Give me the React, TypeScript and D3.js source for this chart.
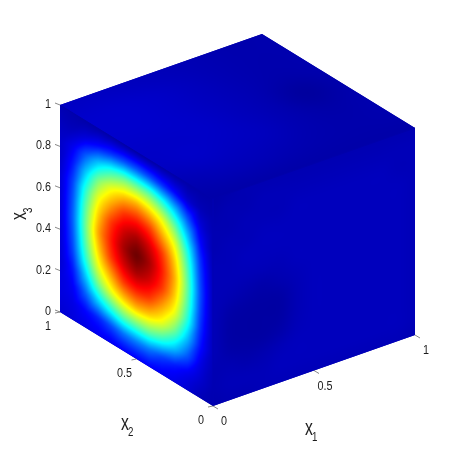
import React from "react";
import * as d3 from "d3";

// field on the x1=0 face: rows x3 = 1 → 0, columns x2 = 1 → 0
const leftFace = [
  [.05,.045,.04,.04,.04,.04,.04,.04,.04,.04,.04,.04,.04],
  [.06,.06,.09,.13,.17,.20,.21,.20,.17,.13,.08,.055,.045],
  [.07,.11,.21,.32,.41,.47,.48,.47,.41,.32,.20,.09,.05],
  [.07,.15,.32,.49,.60,.67,.70,.67,.60,.48,.31,.13,.05],
  [.08,.19,.41,.60,.72,.82,.85,.82,.72,.60,.40,.17,.055],
  [.08,.21,.46,.67,.82,.91,.95,.91,.82,.67,.45,.19,.06],
  [.08,.22,.48,.71,.85,.95,1.0,.95,.85,.70,.47,.20,.06],
  [.08,.21,.46,.67,.82,.91,.95,.91,.82,.67,.45,.19,.06],
  [.08,.19,.41,.60,.72,.82,.85,.82,.72,.60,.40,.17,.06],
  [.08,.15,.32,.49,.60,.67,.70,.67,.60,.48,.31,.14,.06],
  [.09,.12,.22,.33,.41,.47,.48,.47,.41,.32,.21,.10,.055],
  [.09,.10,.13,.16,.20,.24,.25,.24,.19,.15,.11,.075,.05],
  [.08,.09,.10,.11,.11,.12,.12,.12,.11,.10,.08,.055,.045],
];
// field on the x2=0 face: rows x3 = 1 → 0, columns x1 = 0 → 1
const rightFace = [
  [.04,.045,.05,.05,.05,.05,.05,.05,.05,.05,.05,.05,.05],
  [.045,.05,.05,.055,.055,.055,.055,.055,.055,.055,.055,.055,.055],
  [.05,.05,.055,.055,.055,.06,.06,.06,.06,.06,.06,.055,.055],
  [.05,.055,.055,.06,.06,.06,.06,.06,.06,.06,.06,.06,.055],
  [.055,.055,.06,.06,.06,.06,.06,.06,.06,.06,.06,.06,.055],
  [.055,.055,.055,.055,.055,.06,.06,.06,.06,.06,.06,.06,.055],
  [.055,.05,.045,.042,.048,.055,.06,.06,.06,.06,.06,.06,.055],
  [.055,.04,.036,.035,.037,.052,.06,.06,.06,.06,.06,.06,.055],
  [.055,.037,.034,.034,.036,.052,.06,.06,.06,.06,.06,.06,.055],
  [.055,.04,.036,.036,.042,.055,.06,.06,.06,.06,.06,.06,.055],
  [.05,.05,.045,.048,.055,.06,.06,.06,.06,.06,.06,.06,.055],
  [.05,.055,.055,.055,.06,.06,.06,.06,.06,.06,.06,.06,.055],
  [.045,.05,.05,.055,.055,.055,.055,.055,.055,.055,.055,.055,.05],
];
// field on the x3=1 face: rows x2 = 1 → 0, columns x1 = 0 → 1
const topFace = [
  [.065,.065,.06,.055,.05,.045,.045],
  [.075,.075,.07,.06,.05,.045,.045],
  [.075,.075,.07,.06,.05,.042,.045],
  [.07,.07,.07,.06,.048,.03,.042],
  [.065,.07,.065,.06,.048,.04,.045],
  [.05,.055,.055,.05,.045,.043,.045],
  [.04,.04,.04,.04,.04,.04,.04],
];
const x3Ticks = [0, 0.2, 0.4, 0.6, 0.8, 1];
const x3TickText = ["0", "0.2", "0.4", "0.6", "0.8", "1"];
const x2Ticks = [0, 0.5, 1];
const x2TickText = ["0", "0.5", "1"];
const x1Ticks = [0, 0.5, 1];
const x1TickText = ["0", "0.5", "1"];

const jetStops = [0, 0.125, 0.375, 0.625, 0.875, 1];
const jetColors = ["#000080", "#0000ff", "#00ffff", "#ffff00", "#ff0000", "#6e0000"];
const jet = d3.scaleLinear<string>().domain(jetStops).range(jetColors).clamp(true);

const sx1 = d3.scaleLinear().domain([0, 1]).range([0, 202]);
const sx2 = d3.scaleLinear().domain([0, 1]).range([0, -153]);
const sy1 = d3.scaleLinear().domain([0, 1]).range([0, -71]);
const sy2 = d3.scaleLinear().domain([0, 1]).range([0, -94]);
const sy3 = d3.scaleLinear().domain([0, 1]).range([0, -207]);
const proj = (a: number, b: number, c: number): [number, number] => [
  213 + sx1(a) + sx2(b),
  406 + sy1(a) + sy2(b) + sy3(c),
];

const cr = (p0: number, p1: number, p2: number, p3: number, t: number) =>
  0.5 * (2 * p1 + (p2 - p0) * t + (2 * p0 - 5 * p1 + 4 * p2 - p3) * t * t + (3 * p1 - p0 - 3 * p2 + p3) * t * t * t);

function bicubic(g: number[][], u: number, v: number) {
  const R = g.length - 1, C = g[0].length - 1;
  const fx = u * C, fy = v * R;
  const i = Math.min(Math.floor(fx), C - 1), j = Math.min(Math.floor(fy), R - 1);
  const at = (r: number, c: number) => g[Math.max(0, Math.min(R, r))][Math.max(0, Math.min(C, c))];
  const row = (r: number) => cr(at(r, i - 1), at(r, i), at(r, i + 1), at(r, i + 2), fx - i);
  return cr(row(j - 1), row(j), row(j + 1), row(j + 2), fy - j);
}
function tri(g: number[][], u: number, v: number) {
  const R = g.length - 1, C = g[0].length - 1;
  const fx = u * C, fy = v * R;
  const i = Math.min(Math.floor(fx), C - 1), j = Math.min(Math.floor(fy), R - 1);
  const s = fx - i, t = fy - j;
  const a = g[j][i], b = g[j][i + 1], c = g[j + 1][i], d = g[j + 1][i + 1];
  return s + t < 1 ? a + (b - a) * s + (c - a) * t : d + (c - d) * (1 - s) + (b - d) * (1 - t);
}

function faceImage(g: number[][], w: number, h: number, facet: number) {
  const canvas = document.createElement("canvas");
  canvas.width = w;
  canvas.height = h;
  const ctx = canvas.getContext("2d")!;
  const img = ctx.createImageData(w, h);
  for (let y = 0; y < h; y++) {
    for (let x = 0; x < w; x++) {
      const u = (x + 0.5) / w, v = (y + 0.5) / h;
      const val = (1 - facet) * bicubic(g, u, v) + facet * tri(g, u, v);
      const c = d3.rgb(jet(val));
      const o = (y * w + x) * 4;
      img.data[o] = c.r;
      img.data[o + 1] = c.g;
      img.data[o + 2] = c.b;
      img.data[o + 3] = 255;
    }
  }
  ctx.putImageData(img, 0, 0);
  return canvas.toDataURL();
}

function Face({ g, w, h, facet, pt }: { g: number[][]; w: number; h: number; facet: number; pt: (u: number, v: number) => [number, number] }) {
  const href = React.useMemo(() => faceImage(g, w, h, facet), [g, w, h, facet]);
  const o = pt(0, 0), a = pt(1, 0), b = pt(0, 1);
  const m = [a[0] - o[0], a[1] - o[1], b[0] - o[0], b[1] - o[1], o[0], o[1]].join(" ");
  return <image href={href} x={0} y={0} width={1} height={1} preserveAspectRatio="none" transform={`matrix(${m})`} />;
}

const font = "'Liberation Sans', Arial, sans-serif";
const ink = "#1c1c1c";

function Label({ x, y, children, anchor }: { x: number; y: number; children: string; anchor: string }) {
  return (
    <text transform={`translate(${x},${y}) scale(0.8,1)`} textAnchor={anchor} fontSize={13.5} fill={ink}>
      {children}
    </text>
  );
}

function AxisName({ tr, sub }: { tr: string; sub: string }) {
  return (
    <g transform={tr}>
      <text transform="scale(1.05,1.45)" fontSize={15} fill={ink}>x</text>
      <text transform="translate(7,6) scale(0.75,1)" fontSize={13} fill={ink}>{sub}</text>
    </g>
  );
}

export default function App() {
  const tickColor = "#555";
  const hull = [proj(0, 1, 1), proj(1, 1, 1), proj(1, 0, 1), proj(1, 0, 0), proj(0, 0, 0), proj(0, 1, 0)];
  return (
    <svg width={458} height={458} style={{ position: "absolute", left: 0, top: 0, fontFamily: font }}>
      <defs>
        <filter id="soft" x="-5%" y="-5%" width="110%" height="110%">
          <feGaussianBlur stdDeviation="0.35" />
        </filter>
      </defs>
      <rect width={458} height={458} fill="#fff" />
      <path d={"M" + hull.join("L") + "Z"} fill={jet(0.045)} />
      <Face g={topFace} w={200} h={200} facet={0} pt={(u, v) => proj(u, 1 - v, 1)} />
      <Face g={leftFace} w={306} h={414} facet={0.35} pt={(u, v) => proj(0, 1 - u, 1 - v)} />
      <Face g={rightFace} w={200} h={200} facet={0} pt={(u, v) => proj(u, 0, 1 - v)} />
      <path d={"M" + [proj(0, 1, 1), proj(0, 0, 1), proj(1, 0, 1)].join("L")} fill="none" stroke={jet(0.042)} strokeWidth={1} />
      <path d={"M" + [proj(0, 0, 1), proj(0, 0, 0)].join("L")} fill="none" stroke={jet(0.05)} strokeWidth={1} />
      <g filter="url(#soft)">
        {x3Ticks.map((t, i) => {
          const [x, y] = proj(0, 1, t);
          return (
            <g key={i}>
              <line x1={x} y1={y} x2={x - 5} y2={y - 2} stroke={tickColor} strokeWidth={0.7} />
              <Label x={x - 9} y={y + 3} anchor="end">{x3TickText[i]}</Label>
            </g>
          );
        })}
        {x2Ticks.map((t, i) => {
          const [x, y] = proj(0, t, 0);
          return (
            <g key={i}>
              <line x1={x} y1={y} x2={x - 5} y2={y + 1} stroke={tickColor} strokeWidth={0.7} />
              <Label x={x - 12} y={y + 18} anchor="middle">{x2TickText[i]}</Label>
            </g>
          );
        })}
        {x1Ticks.map((t, i) => {
          const [x, y] = proj(t, 0, 0);
          return (
            <g key={i}>
              <line x1={x} y1={y} x2={x + 5} y2={y + 3} stroke={tickColor} strokeWidth={0.7} />
              <Label x={x + 11} y={y + 19} anchor="middle">{x1TickText[i]}</Label>
            </g>
          );
        })}
        <g transform="translate(26,220) rotate(-90)">
          <AxisName tr="translate(0,0)" sub="3" />
        </g>
        <AxisName tr="translate(121,430)" sub="2" />
        <AxisName tr="translate(305,435)" sub="1" />
      </g>
    </svg>
  );
}
